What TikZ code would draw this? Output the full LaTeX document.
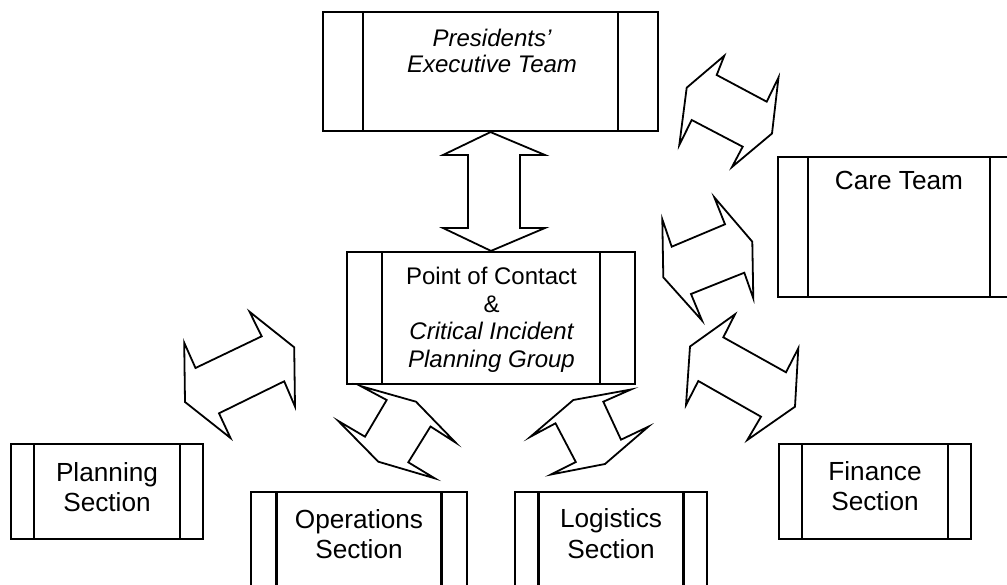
\documentclass[tikz,border=0pt]{standalone}
\usepackage{fontspec}
\setmainfont{Liberation Sans}
\begin{document}
\begin{tikzpicture}[x=1pt,y=-1pt,
  boxl/.style={draw, rectangle, line width=2.2pt, inner sep=0pt},
  bars/.style={path picture={
    \draw[line width=2.2pt] ([xshift=#1]path picture bounding box.north west) -- ([xshift=#1]path picture bounding box.south west);
    \draw[line width=2.2pt] ([xshift=-#1]path picture bounding box.north east) -- ([xshift=-#1]path picture bounding box.south east);}},
  blockarrow/.style={draw, line width=1.8pt, line join=miter},
  tsmall/.style={inner sep=0pt, anchor=base, font=\fontsize{24}{27}\selectfont},
  tbig/.style={inner sep=0pt, anchor=base, font=\fontsize{26.2}{30}\selectfont}]
\useasboundingbox (0,0) rectangle (1007,585);

% boxes
\node[boxl, bars=40pt, minimum width=335pt, minimum height=119pt] (pet) at (490.5,71.5) {};
\node[boxl, bars=35pt, minimum width=288pt, minimum height=132pt] (poc) at (491,318) {};
\node[boxl, bars=30pt, minimum width=242pt, minimum height=140pt] (care) at (899,227) {};
\node[boxl, bars=23pt, minimum width=192pt, minimum height=95pt] (plan) at (107,491.5) {};
\node[boxl, bars=25.5pt, minimum width=216pt, minimum height=128pt] (ops) at (359,556) {};
\node[boxl, bars=23.5pt, minimum width=192pt, minimum height=128pt] (log) at (611,556) {};
\node[boxl, bars=23pt, minimum width=192pt, minimum height=95pt] (fin) at (875,491.5) {};

% texts
\node[tsmall] (pet1) at (492,46.5) {\itshape Presidents’};
\node[tsmall] (pet2) at (492,73) {\itshape Executive Team};
\node[tsmall] (poc1) at (491.5,285) {Point of Contact};
\node[tsmall] (poc2) at (491.5,312.5) {\&};
\node[tsmall] (poc3) at (491.5,340) {\itshape Critical Incident};
\node[tsmall] (poc4) at (491.5,367) {\itshape Planning Group};
\node[tbig] (care1) at (899,190) {Care Team};
\node[tbig] (plan1) at (107,481.7) {Planning};
\node[tbig] (plan2) at (107,511.7) {Section};
\node[tbig] (ops1) at (359,528.3) {Operations};
\node[tbig] (ops2) at (359,558.3) {Section};
\node[tbig] (log1) at (611,527.7) {Logistics};
\node[tbig] (log2) at (611,558.3) {Section};
\node[tbig] (fin1) at (875,480) {Finance};
\node[tbig] (fin2) at (875,510.7) {Section};

% block arrows
\draw[blockarrow] (pet.south) -- (545,155) -- (520,155) -- (520,228) -- (545,228) -- (poc.north) -- (443,228) -- (468,228) -- (468,155) -- (443,155) -- cycle;
\draw[blockarrow] (724.3,55.7) -- (716.7,75) -- (766.7,101.7) -- (778.5,77.5) -- (772,133.5) -- (732,167) -- (742.7,146.7) -- (691.7,120) -- (679.3,145) -- (686.7,87.7) -- cycle;
\draw[blockarrow] (714.3,197.3) -- (725,224.3) -- (671.7,246.7) -- (662.3,219.3) -- (663.3,277.3) -- (702,320.5) -- (691,294) -- (744.3,272.7) -- (753.3,298.3) -- (752.3,241.7) -- cycle;
\draw[blockarrow] (735,314.3) -- (723.3,337.3) -- (786,372.3) -- (798.3,348.3) -- (795,406.7) -- (747.3,440) -- (761,416.7) -- (698.3,381) -- (686,405) -- (690,346.5) -- cycle;
\draw[blockarrow] (249.5,311.7) -- (261.7,336.3) -- (195.5,368) -- (184.2,342.7) -- (185,402) -- (230.5,438) -- (219,413.3) -- (284.2,381.3) -- (295,406.5) -- (294.2,347.3) -- cycle;
\draw[blockarrow] (360.5,386) -- (416,401.7) -- (455.5,442.5) -- (430.5,426.5) -- (408.3,462.3) -- (434.7,478.3) -- (378.3,461.7) -- (338.3,421) -- (365,436.7) -- (386.7,400) -- cycle;
\draw[blockarrow] (631,389.5) -- (573.3,400) -- (530.5,436.7) -- (555.5,423.3) -- (575.8,462) -- (551,474.5) -- (605,464) -- (648.3,426.7) -- (621,439.7) -- (603.3,401.7) -- cycle;
\end{tikzpicture}
\end{document}
